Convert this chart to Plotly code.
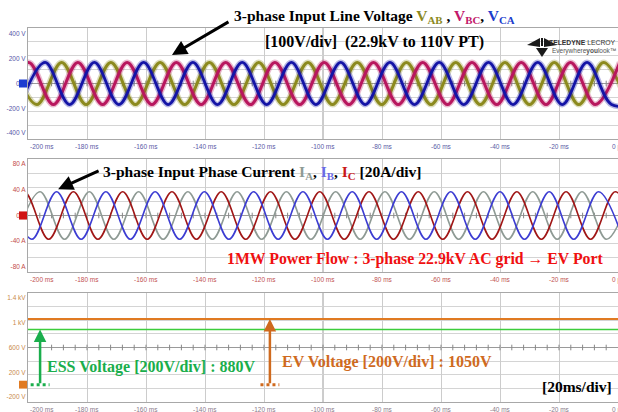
import plotly.graph_objects as go

W, H = 618, 412

# ---------------- data ----------------
time_ticks = [-200, -180, -160, -140, -120, -100, -80, -60, -40, -20, 0]
time_labels = ["-200 ms", "-180 ms", "-160 ms", "-140 ms", "-120 ms", "-100 ms",
               "-80 ms", "-60 ms", "-40 ms", "-20 ms", "0 µs"]
time_minor = list(range(-196, 0, 4))

volt_ticks = [-400, -200, 0, 200, 400]
volt_labels = ["-400 V", "-200 V", "0 V", "200 V", "400 V"]
volt_divs = [-336, -224, -112, 112, 224, 336]

amp_ticks = [-80, -40, 0, 40, 80]
amp_labels = ["-80 A", "-40 A", "0 A", "40 A", "80 A"]
amp_divs = [-66, -44, -22, 22, 44, 66]

dc_ticks = [-200, 200, 600, 1000, 1400]
dc_labels = ["-200 V", "200 V", "600 V", "1 kV", "1.4 kV"]
dc_divs = [-60, 160, 380, 820, 1040, 1260]

# line voltages: times (ms) of positive / negative peaks, peak values (V)
vab_peak_t = [-205.3, -188.6, -171.9, -155.2, -138.5, -121.8, -105.1, -88.4, -71.7, -55.0, -38.3, -21.6, -4.9]
vab_trough_t = [-197.0, -180.3, -163.6, -146.9, -130.2, -113.5, -96.8, -80.1, -63.4, -46.7, -30.0, -13.3, 3.4]
vbc_peak_t = [-199.8, -183.1, -166.4, -149.7, -133.0, -116.3, -99.6, -82.9, -66.2, -49.5, -32.8, -16.1, 0.6]
vbc_trough_t = [-208.1, -191.4, -174.7, -158.0, -141.3, -124.6, -107.9, -91.2, -74.5, -57.8, -41.1, -24.4, -7.7]
vca_peak_t = [-194.2, -177.5, -160.8, -144.1, -127.4, -110.7, -94.0, -77.3, -60.6, -43.9, -27.2, -10.5]
vca_trough_t = [-202.6, -185.9, -169.2, -152.5, -135.8, -119.1, -102.4, -85.7, -69.0, -52.3, -35.6, -18.9, -2.2, 6.2]
v_peak, v_trough = 170, -170

# phase currents: times (ms) of positive / negative peaks, peak values (A)
ia_peak_t = [-195.9, -179.2, -162.5, -145.8, -129.1, -112.4, -95.7, -79.0, -62.3, -45.6, -28.9, -12.2, 4.5]
ia_trough_t = [-204.3, -187.6, -170.9, -154.2, -137.5, -120.8, -104.1, -87.4, -70.7, -54.0, -37.3, -20.6, -3.9]
ib_peak_t = [-207.0, -190.3, -173.6, -156.9, -140.2, -123.5, -106.8, -90.1, -73.4, -56.7, -40.0, -23.3, -6.6]
ib_trough_t = [-198.7, -182.0, -165.3, -148.6, -131.9, -115.2, -98.5, -81.8, -65.1, -48.4, -31.7, -15.0, 1.7]
ic_peak_t = [-201.3, -184.6, -167.9, -151.2, -134.5, -117.8, -101.1, -84.4, -67.7, -51.0, -34.3, -17.6, -0.9]
ic_trough_t = [-209.7, -193.0, -176.3, -159.6, -142.9, -126.2, -109.5, -92.8, -76.1, -59.4, -42.7, -26.0, -9.3, 7.4]
i_peak, i_trough = 37, -37

# DC voltages (V)
dc_t = [-200, 0]
ev_v = [1060, 1060]
ess_v = [890, 890]
ess_arrow_t, ev_arrow_t = -195.9, -118.0

# ---------------- helpers ----------------
def merge(peaks, troughs, pv, tv):
    pts = [(t, pv) for t in peaks] + [(t, tv) for t in troughs]
    pts.sort()
    return [p[0] for p in pts], [p[1] for p in pts]

def px_y(p):
    return 1 - p / H

def px_x(p):
    return p / W

C_AB, C_BC, C_CA = "#8c8a1e", "#b8175e", "#1414a6"
C_IA, C_IB, C_IC = "#8e9a94", "#3c3cd2", "#a01616"
C_ESS, C_EV = "#3ccd3c", "#e07a22"
T_ESS, T_EV = "#1aae4c", "#cf6a1e"

centers = [0, 0, 600]
fig = go.Figure()

# small tick marks along the centre lines
for i in range(3):
    sx = "" if i == 0 else str(i + 1)
    fig.add_trace(go.Scatter(x=time_minor, y=[centers[i]] * len(time_minor), mode="markers",
                             xaxis="x" + sx, yaxis="y" + sx, hoverinfo="skip",
                             marker=dict(symbol="line-ns", size=4, line=dict(color="#888888", width=1))))

for pk, tr, col, w in [(vab_peak_t, vab_trough_t, C_AB, 3.0),
                       (vbc_peak_t, vbc_trough_t, C_BC, 3.0),
                       (vca_peak_t, vca_trough_t, C_CA, 2.8)]:
    t, v = merge(pk, tr, v_peak, v_trough)
    fig.add_trace(go.Scatter(x=t, y=v, mode="lines", xaxis="x", yaxis="y",
                             line=dict(color=col, width=w + 3, shape="spline", smoothing=1),
                             opacity=0.3, hoverinfo="skip"))
    fig.add_trace(go.Scatter(x=t, y=v, mode="lines", xaxis="x", yaxis="y",
                             line=dict(color=col, width=w, shape="spline", smoothing=1)))

for pk, tr, col in [(ia_peak_t, ia_trough_t, C_IA),
                    (ic_peak_t, ic_trough_t, C_IC),
                    (ib_peak_t, ib_trough_t, C_IB)]:
    t, v = merge(pk, tr, i_peak, i_trough)
    fig.add_trace(go.Scatter(x=t, y=v, mode="lines", xaxis="x2", yaxis="y2",
                             line=dict(color=col, width=1.6, shape="spline", smoothing=1)))

fig.add_trace(go.Scatter(x=dc_t, y=ev_v, mode="lines", xaxis="x3", yaxis="y3",
                         line=dict(color=C_EV, width=2)))
fig.add_trace(go.Scatter(x=dc_t, y=ess_v, mode="lines", xaxis="x3", yaxis="y3",
                         line=dict(color=C_ESS, width=1.5)))
# dotted bases of the arrows
for xt, col in [(ess_arrow_t, T_ESS), (ev_arrow_t, T_EV)]:
    fig.add_trace(go.Scatter(x=[xt - 3.2, xt, xt + 3.2], y=[0, 0, 0], mode="lines", xaxis="x3", yaxis="y3",
                             line=dict(color=col, width=3, dash="dot")))

# ---------------- axes ----------------
xdom = [px_x(28), 1]
doms = [[px_y(139), px_y(28)], [px_y(272), px_y(159)], [px_y(402), px_y(293)]]
tick_cols = ["#5656a8", "#c24a4a", "#c98a4c"]
xlab_cols = ["#5a5aa6", "#c25252", "#8a7a8a"]
yranges = [[-448, 448], [-88, 88], [-280, 1480]]
yticks = [(volt_ticks, volt_labels, volt_divs), (amp_ticks, amp_labels, amp_divs), (dc_ticks, dc_labels, dc_divs)]

font_tick = "Liberation Sans, Arial, sans-serif"
for i in range(3):
    sx = "" if i == 0 else str(i + 1)
    fig.update_layout(**{
        "xaxis" + sx: dict(domain=xdom, range=[-200, 0], anchor="y" + sx, automargin=False,
                           tickmode="array", tickvals=time_ticks, showticklabels=False,
                           showgrid=True, gridcolor="#cccccc", gridwidth=1,
                           showline=True, mirror=True, linecolor="#a8a8a8", linewidth=1,
                           zeroline=False, ticks=""),
        "yaxis" + sx: dict(domain=doms[i], range=yranges[i], anchor="x" + sx, automargin=False,
                           tickmode="array", tickvals=yticks[i][0], ticktext=yticks[i][1],
                           showgrid=False, zeroline=False, ticks="",
                           minor=dict(tickmode="array", tickvals=yticks[i][2], showgrid=True,
                                      gridcolor="#d4d4d4", ticks=""),
                           showline=True, mirror=True, linecolor="#a8a8a8", linewidth=1,
                           tickfont=dict(family=font_tick, size=6.5, color=tick_cols[i])),
    })

shapes = []
for i in range(3):
    sx = "" if i == 0 else str(i + 1)
    shapes.append(dict(type="line", xref="x" + sx, yref="y" + sx, x0=-200, x1=0, y0=centers[i], y1=centers[i],
                       line=dict(color="#9a9a9a", width=1), layer="below"))
    shapes.append(dict(type="line", xref="x" + sx, yref="y" + sx + " domain", x0=-100, x1=-100, y0=0, y1=1,
                       line=dict(color="#9a9a9a", width=1), layer="below"))
# channel markers at the left edge
marker_cols = ["#1c3cd0", "#d01414", "#e07a22"]
for i in range(3):
    sx = "" if i == 0 else str(i + 1)
    yr = yranges[i]
    hh = (yr[1] - yr[0]) * 4 / 111
    shapes.append(dict(type="rect", xref="paper", yref="y" + sx, x0=px_x(19), x1=px_x(27),
                       y0=-hh, y1=hh, fillcolor=marker_cols[i], line=dict(width=0)))

# Teledyne logo (simple black fins)
def poly(pts):
    return "M " + " L ".join(f"{px_x(x):.4f},{px_y(y):.4f}" for x, y in pts) + " Z"
for pts in [[(527, 45), (540, 38), (540, 47)], [(557, 45), (544, 38), (544, 47)],
            [(536, 48), (548, 48), (542, 57)], [(541, 38), (543, 38), (543, 46), (541, 46)]]:
    shapes.append(dict(type="path", xref="paper", yref="paper", path=poly(pts),
                       fillcolor="#1a1a1a", line=dict(width=0)))
fig.update_layout(shapes=shapes)

ann = []
# x tick labels drawn under every panel from the tick lists
for i in range(3):
    sx = "" if i == 0 else str(i + 1)
    for k, (tv, tl) in enumerate(zip(time_ticks, time_labels)):
        ann.append(dict(xref="x" + sx, yref="y" + sx + " domain", x=tv, y=0, yanchor="top",
                        xanchor="left" if k == 0 else "center", yshift=-2,
                        text=tl, showarrow=False,
                        font=dict(family=font_tick, size=6.5, color=xlab_cols[i])))

serif = "Liberation Serif, Times New Roman, serif"
def text(xc, y, s, size, color="black"):
    ann.append(dict(xref="paper", yref="paper", x=px_x(xc), y=px_y(y), xanchor="center", yanchor="middle",
                    text=s, showarrow=False, font=dict(family=serif, size=size, color=color)))

text(374, 17, "<b>3-phase Input Line Voltage "
     f"<span style='color:{C_AB}'>V<sub>AB</sub></span> , "
     f"<span style='color:#c2186a'>V<sub>BC</sub></span>, "
     f"<span style='color:#1a3ccc'>V<sub>CA</sub></span></b>", 15.5)
text(374, 42, "<b>[100V/div] \u00a0(22.9kV to 110V PT)</b>", 16)
text(262, 172, "<b>3-phase Input Phase Current "
     f"<span style='color:#8e9a94'>I<sub>A</sub></span>, "
     f"<span style='color:#6a6ae6'>I<sub>B</sub></span>, "
     f"<span style='color:#c81818'>I<sub>C</sub></span> [20A/div]</b>", 15.5)
text(415, 259, "<b>1MW Power Flow : 3-phase 22.9kV AC grid \u2192 EV Port</b>", 15.8, "#f01010")
text(151, 367, "<b>ESS Voltage [200V/div] : 880V</b>", 16, T_ESS)
text(387, 362, "<b>EV Voltage [200V/div] : 1050V</b>", 16, T_EV)
text(577, 386, "<b>[20ms/div]</b>", 15.5)

# arrows
ann.append(dict(xref="x", yref="y", x=-151.2, y=230, ax=58, ay=-34, text="", showarrow=True,
                arrowhead=2, arrowsize=1, arrowwidth=3, arrowcolor="black"))
ann.append(dict(xref="x2", yref="y2", x=-189.8, y=41, ax=42, ay=-19, text="", showarrow=True,
                arrowhead=2, arrowsize=1, arrowwidth=3, arrowcolor="black"))
ann.append(dict(xref="x3", yref="y3", x=ess_arrow_t, y=ess_v[0], axref="x3", ayref="y3",
                ax=ess_arrow_t, ay=0, text="", showarrow=True,
                arrowhead=2, arrowsize=1, arrowwidth=2.5, arrowcolor=T_ESS))
ann.append(dict(xref="x3", yref="y3", x=ev_arrow_t, y=ev_v[0], axref="x3", ayref="y3",
                ax=ev_arrow_t, ay=0, text="", showarrow=True,
                arrowhead=2, arrowsize=1, arrowwidth=2.5, arrowcolor=T_EV))

# logo text
ann.append(dict(xref="paper", yref="paper", x=1, y=px_y(43), xanchor="right", yanchor="middle",
                text="<b>TELEDYNE</b> LECROY", showarrow=False,
                font=dict(family=font_tick, size=6.8, color="#333333")))
ann.append(dict(xref="paper", yref="paper", x=1, y=px_y(51), xanchor="right", yanchor="middle",
                text="Everywhere<b>you</b>look\u2122", showarrow=False,
                font=dict(family=font_tick, size=6.5, color="#555555")))

fig.update_layout(annotations=ann, width=W, height=H, margin=dict(l=0, r=0, t=0, b=0),
                  paper_bgcolor="white", plot_bgcolor="white", showlegend=False)

fig.write_html("out.html", config={"displayModeBar": False, "staticPlot": True},
               post_script="document.body.style.margin='0px';")
